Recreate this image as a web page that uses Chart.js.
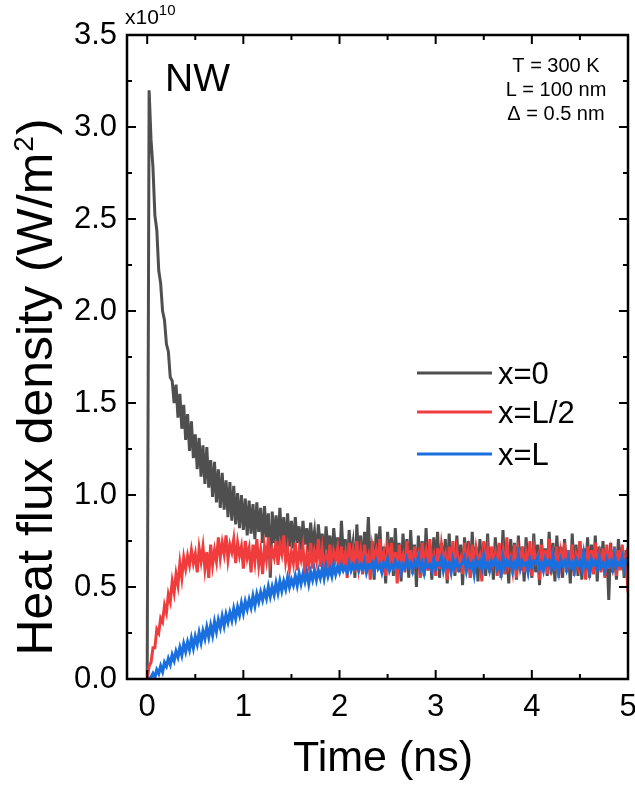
<!DOCTYPE html>
<html><head><meta charset="utf-8">
<script src="https://cdn.jsdelivr.net/npm/chart.js@4.4.1/dist/chart.umd.min.js"></script>
<style>html,body{margin:0;padding:0;background:#fff;}canvas{display:block;}</style>
</head><body>
<canvas id="c" width="635" height="786"></canvas>
<script>
// ---- data (heat flux density in units of 1e10 W/m^2), sampled every 0.02 ns from 0 to 5 ns ----
const seriesNames = ['x=0', 'x=L/2', 'x=L'];
const tStep = 0.02;
const xTicks = [0, 0.5, 1, 1.5, 2, 2.5, 3, 3.5, 4, 4.5, 5];
const xMajor = [0, 1, 2, 3, 4, 5];
const yTicks = [0, 0.25, 0.5, 0.75, 1, 1.25, 1.5, 1.75, 2, 2.25, 2.5, 2.75, 3, 3.25, 3.5];
const yMajor = [0, 0.5, 1, 1.5, 2, 2.5, 3, 3.5];
const annotationLines = ['T = 300 K', 'L = 100 nm', '\u0394 = 0.5 nm'];

const fluxX0 = [
0.00,3.20,2.93,2.78,2.52,2.44,2.22,2.15,2.00,1.95,
1.82,1.78,1.64,1.62,1.50,1.60,1.42,1.55,1.36,1.49,
1.30,1.44,1.24,1.40,1.20,1.33,1.14,1.31,1.10,1.27,
1.06,1.26,1.04,1.19,0.99,1.18,0.96,1.14,0.93,1.12,
0.92,1.08,0.88,1.07,0.86,1.05,0.84,1.01,0.82,1.00,
0.81,0.98,0.78,0.97,0.79,0.95,0.76,0.96,0.80,0.93,
0.74,0.94,0.77,0.90,0.55,0.91,0.74,0.89,0.72,0.93,
0.73,0.88,0.70,0.90,0.72,0.86,0.71,0.88,0.74,0.83,
0.70,0.86,0.73,0.82,0.69,0.85,0.72,0.80,0.66,0.84,
0.71,0.79,0.64,0.83,0.70,0.78,0.63,0.82,0.69,0.77,
0.62,0.86,0.66,0.76,0.58,0.81,0.67,0.74,0.55,0.84,
0.64,0.78,0.57,0.80,0.66,0.88,0.60,0.75,0.54,0.79,
0.65,0.83,0.58,0.72,0.52,0.80,0.64,0.77,0.56,0.82,
0.61,0.74,0.53,0.79,0.63,0.76,0.55,0.81,0.60,0.73,
0.50,0.78,0.62,0.75,0.56,0.82,0.59,0.72,0.54,0.77,
0.63,0.80,0.55,0.74,0.60,0.76,0.52,0.79,0.61,0.71,
0.56,0.78,0.58,0.73,0.51,0.77,0.62,0.75,0.55,0.80,
0.59,0.72,0.53,0.76,0.60,0.74,0.56,0.79,0.58,0.71,
0.54,0.77,0.61,0.73,0.55,0.81,0.57,0.70,0.52,0.76,
0.60,0.74,0.54,0.78,0.59,0.72,0.53,0.77,0.61,0.70,
0.55,0.79,0.58,0.73,0.51,0.76,0.60,0.71,0.56,0.80,
0.57,0.74,0.53,0.78,0.59,0.72,0.55,0.76,0.61,0.70,
0.52,0.79,0.58,0.73,0.56,0.75,0.54,0.71,0.60,0.77,
0.55,0.73,0.57,0.78,0.53,0.72,0.59,0.75,0.56,0.70,
0.43,0.74,0.58,0.71,0.54,0.76,0.60,0.72,0.55,0.70,
0.62];

const fluxHalf = [
0.00,0.07,0.09,0.17,0.17,0.27,0.25,0.33,0.31,0.40,
0.36,0.46,0.42,0.53,0.47,0.57,0.51,0.63,0.55,0.66,
0.60,0.67,0.62,0.70,0.63,0.68,0.58,0.71,0.64,0.72,
0.60,0.69,0.55,0.73,0.62,0.70,0.64,0.77,0.66,0.74,
0.68,0.78,0.65,0.73,0.69,0.76,0.63,0.74,0.67,0.72,
0.60,0.75,0.66,0.71,0.58,0.73,0.64,0.76,0.62,0.70,
0.57,0.72,0.65,0.77,0.63,0.70,0.66,0.75,0.62,0.73,
0.68,0.78,0.64,0.71,0.60,0.69,0.63,0.74,0.59,0.70,
0.65,0.72,0.57,0.68,0.62,0.74,0.60,0.69,0.64,0.76,
0.61,0.70,0.58,0.67,0.63,0.73,0.56,0.69,0.65,0.71,
0.59,0.72,0.62,0.68,0.55,0.74,0.64,0.70,0.58,0.75,
0.61,0.69,0.57,0.73,0.63,0.67,0.54,0.72,0.66,0.70,
0.60,0.76,0.62,0.68,0.56,0.71,0.64,0.74,0.59,0.69,
0.52,0.73,0.63,0.67,0.58,0.75,0.61,0.70,0.57,0.72,
0.64,0.68,0.55,0.74,0.62,0.69,0.59,0.76,0.63,0.67,
0.56,0.71,0.60,0.73,0.65,0.68,0.54,0.72,0.61,0.75,
0.58,0.70,0.63,0.66,0.57,0.74,0.62,0.69,0.55,0.73,
0.60,0.71,0.64,0.67,0.53,0.75,0.61,0.70,0.58,0.72,
0.63,0.68,0.56,0.74,0.60,0.69,0.57,0.77,0.62,0.66,
0.59,0.73,0.55,0.70,0.63,0.72,0.58,0.68,0.61,0.75,
0.56,0.71,0.64,0.67,0.54,0.73,0.60,0.70,0.57,0.76,
0.62,0.68,0.59,0.72,0.55,0.69,0.63,0.74,0.58,0.70,
0.60,0.73,0.56,0.67,0.62,0.75,0.59,0.69,0.54,0.72,
0.61,0.70,0.57,0.74,0.63,0.68,0.58,0.71,0.55,0.73,
0.60,0.69,0.62,0.72,0.56,0.70,0.59,0.73,0.61,0.66,
0.47];

const fluxL = [
0.00,0.00,0.01,0.03,0.01,0.05,0.03,0.07,0.04,0.09,
0.07,0.11,0.08,0.13,0.10,0.15,0.12,0.17,0.13,0.19,
0.15,0.20,0.16,0.22,0.17,0.23,0.19,0.25,0.20,0.26,
0.22,0.28,0.23,0.29,0.24,0.31,0.26,0.32,0.28,0.34,
0.29,0.35,0.31,0.36,0.32,0.38,0.33,0.39,0.35,0.41,
0.36,0.42,0.38,0.43,0.39,0.45,0.40,0.46,0.42,0.47,
0.43,0.48,0.44,0.50,0.45,0.50,0.46,0.52,0.47,0.53,
0.48,0.53,0.49,0.55,0.50,0.54,0.51,0.56,0.51,0.57,
0.52,0.57,0.53,0.58,0.52,0.58,0.54,0.59,0.54,0.59,
0.55,0.60,0.55,0.61,0.56,0.60,0.56,0.62,0.57,0.61,
0.58,0.62,0.59,0.61,0.58,0.63,0.59,0.62,0.60,0.63,
0.59,0.62,0.60,0.64,0.58,0.62,0.61,0.63,0.59,0.64,
0.60,0.62,0.58,0.63,0.61,0.65,0.59,0.62,0.60,0.64,
0.61,0.63,0.58,0.62,0.60,0.65,0.61,0.63,0.59,0.64,
0.62,0.66,0.60,0.63,0.58,0.64,0.61,0.62,0.59,0.65,
0.60,0.63,0.62,0.66,0.59,0.64,0.61,0.63,0.58,0.65,
0.61,0.64,0.60,0.62,0.63,0.66,0.59,0.64,0.61,0.63,
0.57,0.65,0.62,0.64,0.60,0.67,0.61,0.63,0.59,0.64,
0.62,0.65,0.60,0.63,0.58,0.66,0.61,0.64,0.62,0.65,
0.59,0.63,0.61,0.67,0.60,0.64,0.62,0.63,0.58,0.65,
0.61,0.64,0.63,0.66,0.60,0.63,0.59,0.65,0.62,0.64,
0.60,0.67,0.61,0.63,0.58,0.65,0.62,0.64,0.60,0.66,
0.61,0.63,0.59,0.65,0.62,0.64,0.60,0.68,0.61,0.63,
0.58,0.65,0.62,0.64,0.60,0.66,0.61,0.63,0.59,0.65,
0.62,0.64,0.60,0.67,0.61,0.63,0.62,0.66,0.60,0.65,
0.64];

const timeNs = fluxX0.map((_, i) => +(i * tStep).toFixed(2));

// ---- styling ----
const FONT = "'Liberation Sans', Arial, sans-serif";
const colors = ['#4f4f4f', '#f03c3c', '#1a6fdf'];

const toPoints = arr => arr.map((v, i) => ({ x: timeNs[i], y: v }));

const decor = {
  id: 'decor',
  afterDraw(chart) {
    const { ctx, chartArea: { left, right, top, bottom }, scales: { x, y } } = chart;
    ctx.save();
    ctx.strokeStyle = '#000';
    ctx.lineWidth = 2;
    ctx.beginPath();
    xTicks.forEach(v => {
      const px = x.getPixelForValue(v);
      const len = xMajor.includes(v) ? 9 : 5;
      ctx.moveTo(px, bottom); ctx.lineTo(px, bottom - len);
      ctx.moveTo(px, top); ctx.lineTo(px, top + len);
    });
    yTicks.forEach(v => {
      const py = y.getPixelForValue(v);
      const len = yMajor.includes(v) ? 9 : 5;
      ctx.moveTo(left, py); ctx.lineTo(left + len, py);
      ctx.moveTo(right, py); ctx.lineTo(right - len, py);
    });
    ctx.stroke();
    ctx.lineWidth = 2.5;
    ctx.strokeRect(left, top, right - left, bottom - top);

    ctx.fillStyle = '#000';
    ctx.textBaseline = 'alphabetic';
    // x title
    ctx.font = `43px ${FONT}`;
    ctx.textAlign = 'center';
    ctx.fillText('Time (ns)', 383, 771);

    // y title with superscript
    ctx.save();
    ctx.translate(52, 388);
    ctx.rotate(-Math.PI / 2);
    ctx.textAlign = 'left';
    const mainT = 'Heat flux density (W/m', supT = '2', closeT = ')';
    ctx.font = `50px ${FONT}`;
    const w1 = ctx.measureText(mainT).width, w3 = ctx.measureText(closeT).width;
    ctx.font = `28px ${FONT}`;
    const w2 = ctx.measureText(supT).width;
    let xs = -(w1 + w2 + w3) / 2;
    ctx.font = `50px ${FONT}`; ctx.fillText(mainT, xs, 0); xs += w1;
    ctx.font = `28px ${FONT}`; ctx.fillText(supT, xs + 1, -19); xs += w2 + 2;
    ctx.font = `50px ${FONT}`; ctx.fillText(closeT, xs, 0);
    ctx.restore();

    // multiplier
    ctx.textAlign = 'left';
    ctx.font = `21px ${FONT}`;
    ctx.fillText('x10', 125, 24);
    const wx = ctx.measureText('x10').width;
    ctx.font = `15px ${FONT}`;
    ctx.fillText('10', 125 + wx, 15);

    // NW
    ctx.font = `39px ${FONT}`;
    ctx.fillText('NW', 165, 91);

    // annotation
    ctx.font = `20px ${FONT}`;
    ctx.textAlign = 'center';
    annotationLines.forEach((s, i) => ctx.fillText(s, 556, 72 + i * 24));

    // legend
    const legY = [373, 412, 454];
    chart.data.datasets.forEach((ds, i) => {
      ctx.strokeStyle = ds.borderColor;
      ctx.lineWidth = 3;
      ctx.beginPath();
      ctx.moveTo(417, legY[i]); ctx.lineTo(492, legY[i]);
      ctx.stroke();
      ctx.fillStyle = '#000';
      ctx.font = `31px ${FONT}`;
      ctx.textAlign = 'left';
      ctx.fillText(ds.label, 498, legY[i] + 11);
    });
    ctx.restore();
  }
};

new Chart(document.getElementById('c'), {
  type: 'line',
  data: {
    datasets: [
      { label: seriesNames[0], data: toPoints(fluxX0), borderColor: colors[0], borderWidth: 3, order: 2 },
      { label: seriesNames[1], data: toPoints(fluxHalf), borderColor: colors[1], borderWidth: 3, order: 1 },
      { label: seriesNames[2], data: toPoints(fluxL), borderColor: colors[2], borderWidth: 3.2, order: 0 }
    ]
  },
  options: {
    responsive: false,
    animation: false,
    devicePixelRatio: 1,
    events: [],
    elements: { point: { radius: 0 }, line: { tension: 0 } },
    layout: { padding: { top: 35, right: 7, left: 0, bottom: 0 } },
    plugins: { legend: { display: false }, tooltip: { enabled: false } },
    scales: {
      x: {
        type: 'linear', min: -0.21, max: 5,
        afterBuildTicks: s => { s.ticks = xTicks.map(v => ({ value: v })); },
        afterFit: s => { s.height = 107; s.paddingLeft = 0; s.paddingRight = 0; },
        grid: { display: false }, border: { display: false },
        ticks: {
          autoSkip: false, maxRotation: 0, padding: 2, color: '#000',
          font: { family: FONT, size: 31 },
          callback: v => xMajor.includes(v) ? String(v) : ''
        }
      },
      y: {
        type: 'linear', min: 0, max: 3.5,
        afterBuildTicks: s => { s.ticks = yTicks.map(v => ({ value: v })); },
        afterFit: s => { s.width = 127; s.paddingTop = 0; s.paddingBottom = 0; },
        grid: { display: false }, border: { display: false },
        ticks: {
          autoSkip: false, padding: 2, color: '#000',
          font: { family: FONT, size: 31 },
          callback: v => yMajor.includes(v) ? v.toFixed(1) : ''
        }
      }
    }
  },
  plugins: [decor]
});
</script>
</body></html>
